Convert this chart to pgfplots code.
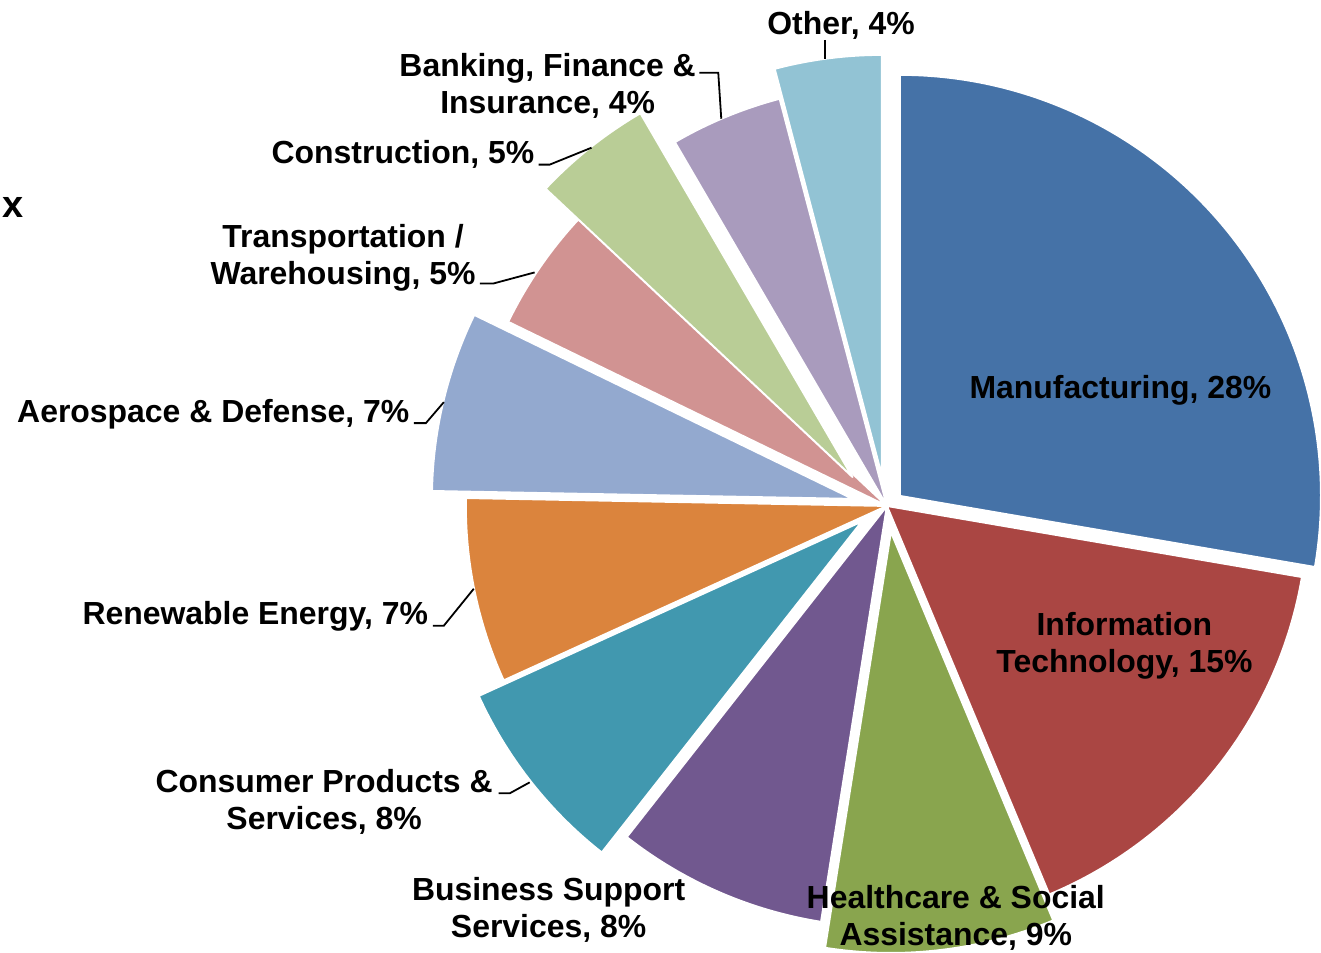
\documentclass[border=0pt]{standalone}
\usepackage{pgfplots}
\pgfplotsset{compat=1.18}
\usepackage{pgfplotstable}
\usepackage{fontspec}
\setmainfont{Liberation Sans}

\definecolor{c0}{HTML}{4572A7}
\definecolor{c1}{HTML}{AA4643}
\definecolor{c2}{HTML}{89A54E}
\definecolor{c3}{HTML}{71588F}
\definecolor{c4}{HTML}{4198AF}
\definecolor{c5}{HTML}{DB843D}
\definecolor{c6}{HTML}{93A9CF}
\definecolor{c7}{HTML}{D19392}
\definecolor{c8}{HTML}{B9CD96}
\definecolor{c9}{HTML}{A99BBD}
\definecolor{c10}{HTML}{92C3D4}

% share (%), explosion offset dx, dy (px)
\pgfplotstableread{
val dx dy
27.7 13 10
16.0 0 0
8.8 4 -26
8.1 0 0
7.6 -25 -15.5
7.1 0 0
6.9 -34 7
4.8 0 0
4.6 -34.5 29
4.3 0 0
4.1 -5 30
}\piedata

\newcommand\lbl{\fontsize{32}{37}\selectfont\bfseries}

\begin{document}
\def\cum{0}
\pgfplotsforeachungrouped \i in {0,...,10}{%
  \pgfplotstablegetelem{\i}{val}\of\piedata \let\myv\pgfplotsretval
  \pgfplotstablegetelem{\i}{dx}\of\piedata \let\mydx\pgfplotsretval
  \pgfplotstablegetelem{\i}{dy}\of\piedata \let\mydy\pgfplotsretval
  \pgfmathsetmacro\sa{90-3.6*\cum}%
  \pgfmathsetmacro\cum{\cum+\myv}%
  \pgfmathsetmacro\ea{90-3.6*\cum}%
  \pgfmathsetmacro\cx{886+\mydx}%
  \pgfmathsetmacro\cy{447+\mydy}%
  \expandafter\xdef\csname sa\i\endcsname{\sa}%
  \expandafter\xdef\csname ea\i\endcsname{\ea}%
  \expandafter\xdef\csname cx\i\endcsname{\cx}%
  \expandafter\xdef\csname cy\i\endcsname{\cy}%
}%
\begin{tikzpicture}
\begin{axis}[name=ax, at={(0,0)}, anchor=south west,
  width=1321pt, height=954pt, scale only axis,
  xmin=0, xmax=1321, ymin=0, ymax=954, enlargelimits=false,
  hide axis, clip=false]
\pgfplotsinvokeforeach{0,...,10}{
  \fill[c#1, draw=white, line width=2pt, line join=round]
    (axis cs:\csname cx#1\endcsname,\csname cy#1\endcsname)
    -- ++(\csname sa#1\endcsname:422pt)
    arc[start angle=\csname sa#1\endcsname, end angle=\csname ea#1\endcsname, radius=422pt]
    -- cycle;
}
% leader lines
\draw[black, line width=1.8pt] (axis cs:824,914) -- (axis cs:824,895);
\draw[black, line width=1.8pt] (axis cs:698,881) -- (axis cs:717,881) -- (axis cs:720,835);
\draw[black, line width=1.8pt] (axis cs:537,789) -- (axis cs:548,789) -- (axis cs:590,806);
\draw[black, line width=1.8pt] (axis cs:478,670) -- (axis cs:492,670) -- (axis cs:533,681);
\draw[black, line width=1.8pt] (axis cs:412,530) -- (axis cs:424,530) -- (axis cs:442,551);
\draw[black, line width=1.8pt] (axis cs:431,327) -- (axis cs:442,327) -- (axis cs:472,364);
\draw[black, line width=1.8pt] (axis cs:497,159) -- (axis cs:508,159) -- (axis cs:528,170);
% labels
\node[font=\lbl, align=center, inner sep=0pt] at (axis cs:1120,563) {Manufacturing, 28\%};
\node[font=\lbl, align=center, inner sep=0pt] at (axis cs:1124,307) {Information\\Technology, 15\%};
\node[font=\lbl, align=center, inner sep=0pt] at (axis cs:955,34) {Healthcare \& Social\\Assistance, 9\%};
\node[font=\lbl, align=center, inner sep=0pt] at (axis cs:547,42) {Business Support\\Services, 8\%};
\node[font=\lbl, align=center, inner sep=0pt] at (axis cs:322,150) {Consumer Products \&\\Services, 8\%};
\node[font=\lbl, align=center, inner sep=0pt] at (axis cs:253,336) {Renewable Energy, 7\%};
\node[font=\lbl, align=center, inner sep=0pt] at (axis cs:211,539) {Aerospace \& Defense, 7\%};
\node[font=\lbl, align=center, inner sep=0pt] at (axis cs:341,696) {Transportation /\\Warehousing, 5\%};
\node[font=\lbl, align=center, inner sep=0pt] at (axis cs:401,799) {Construction, 5\%};
\node[font=\lbl, align=center, inner sep=0pt] at (axis cs:546,868) {Banking, Finance \&\\Insurance, 4\%};
\node[font=\lbl, align=center, inner sep=0pt] at (axis cs:840,929) {Other, 4\%};
\node[font=\fontsize{38}{40}\selectfont\bfseries, anchor=west, inner sep=0pt] at (axis cs:0,746) {x};
\end{axis}
\pgfresetboundingbox
\path (ax.south west) rectangle (ax.north east);
\end{tikzpicture}
\end{document}
